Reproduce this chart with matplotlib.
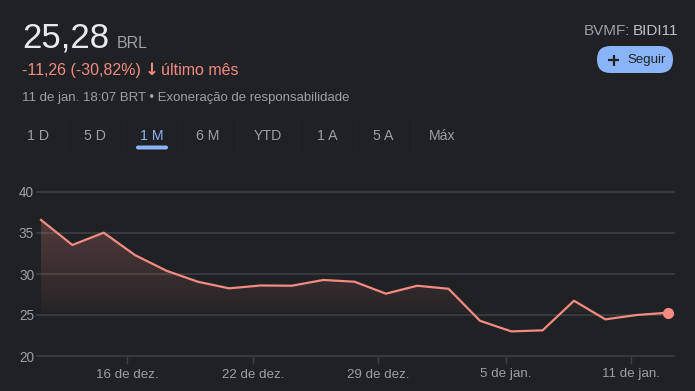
import numpy as np
import matplotlib
matplotlib.use("Agg")
import matplotlib.pyplot as plt
from matplotlib.patches import FancyBboxPatch
from matplotlib.path import Path

# closing prices, one per trading session
prices = [36.59, 33.54, 35.04, 32.3, 30.4, 29.06, 28.25, 28.6, 28.57, 29.27,
          29.06, 27.6, 28.57, 28.2, 24.3, 23.0, 23.13, 26.74, 24.47, 25.0, 25.28]
baseline = 25.28
y_ticks = [20, 25, 30, 35, 40]
x_tick_pos = [2.75, 6.77, 10.76, 14.82, 18.82]
x_tick_labels = ["16 de dez.", "22 de dez.", "29 de dez.", "5 de jan.", "11 de jan."]
tabs = ["1 D", "5 D", "1 M", "6 M", "YTD", "1 A", "5 A", "Máx"]
tab_x = [38, 95, 152, 208, 268, 327, 383, 442]

BG = "#202124"
GRID = "#3c4043"
RED = "#f28b82"
BLUE = "#8ab4f8"
GREY = "#9aa0a6"
WHITE = "#e8eaed"
FONT = ["Liberation Sans", "DejaVu Sans"]

plt.rcParams["font.family"] = FONT

fig = plt.figure(figsize=(6.95, 3.91), dpi=100, facecolor=BG)

# pixel-coordinate overlay for the header
hd = fig.add_axes([0, 0, 1, 1])
hd.set_xlim(0, 695)
hd.set_ylim(391, 0)
hd.axis("off")

hd.text(22, 48, "25,28", fontsize=25, color=WHITE, va="baseline")
hd.text(117, 48, "BRL", fontsize=11.5, color=GREY, va="baseline")
hd.text(22, 75, "-11,26 (-30,82%)", fontsize=11.5, color=RED, va="baseline")
hd.text(145, 75, "↓", fontsize=12, color=RED, va="baseline", fontweight="bold",
        family=["DejaVu Sans"])
hd.text(161, 75, "último mês", fontsize=11.5, color=RED, va="baseline")
hd.text(22, 101, "11 de jan. 18:07 BRT • Exoneração de responsabilidade",
        fontsize=9.5, color=GREY, va="baseline")

hd.text(630, 35, "BVMF:", fontsize=11, color=GREY, va="baseline", ha="right")
hd.text(633, 35, "BIDI11", fontsize=11, color="#bdc1c6", va="baseline", ha="left")

btn = FancyBboxPatch((597, 46), 76, 27,
                     boxstyle="round,pad=0,rounding_size=13.5",
                     facecolor=BLUE, edgecolor="none")
hd.add_patch(btn)
hd.plot([608, 619], [60, 60], color=BG, lw=1.6, solid_capstyle="butt")
hd.plot([613.5, 613.5], [54.5, 65.5], color=BG, lw=1.6, solid_capstyle="butt")
hd.text(627, 60, "Seguir", fontsize=9.5, color=BG, va="center", ha="left")

for name, tx in zip(tabs, tab_x):
    hd.text(tx, 140, name, fontsize=10.2, color=BLUE if name == "1 M" else GREY,
            va="baseline", ha="center")
for sx in [65, 123, 180, 237, 298, 355, 413]:
    hd.plot([sx, sx], [118, 152], color="#242529", lw=1)
hd.add_patch(FancyBboxPatch((136, 145.5), 32, 4,
                            boxstyle="round,pad=0,rounding_size=2",
                            facecolor=BLUE, edgecolor="none"))

# price chart
W, H = 695, 391
ax = fig.add_axes([37 / W, 1 - 356 / H, (674 - 37) / W, (356 - 192) / H])
ax.set_facecolor(BG)
x = np.arange(len(prices))
ax.set_xlim(-0.128, len(prices) - 1 + 0.19)
ax.set_ylim(20, 40)

for gy in y_ticks:
    ax.axhline(gy, color=GRID, lw=1.2, zorder=1, clip_on=False)

# gradient fill between the line and the reference price
fb = ax.fill_between(x, prices, baseline, where=np.array(prices) >= baseline,
                     interpolate=True, facecolor="none", edgecolor="none")
clip = Path.make_compound_path(*fb.get_paths())
top = max(prices)
grad = np.zeros((100, 1, 4))
grad[..., :3] = matplotlib.colors.to_rgb(RED)
grad[..., 3] = np.linspace(0.24, 0.03, 100)[:, None]
im = ax.imshow(grad, extent=(x[0], x[-1], baseline, top), origin="upper",
               aspect="auto", zorder=2, interpolation="bilinear")
im.set_clip_path(clip, transform=ax.transData)

ax.plot(x, prices, color=RED, lw=1.6, zorder=3, solid_joinstyle="round")
ax.plot(x[-1], prices[-1], "o", color=RED, ms=7, zorder=4, clip_on=False)

ax.set_yticks(y_ticks)
ax.set_yticklabels([str(v) for v in y_ticks])
ax.set_xticks(x_tick_pos)
ax.set_xticklabels(x_tick_labels)
ax.tick_params(axis="y", length=0, pad=2, labelsize=9.8, labelcolor=GREY)
ax.tick_params(axis="x", length=6, width=1, color=GRID, pad=3,
               labelsize=9.6, labelcolor=GREY)
for s in ax.spines.values():
    s.set_visible(False)

fig.savefig("out.png", dpi=100, facecolor=BG)
